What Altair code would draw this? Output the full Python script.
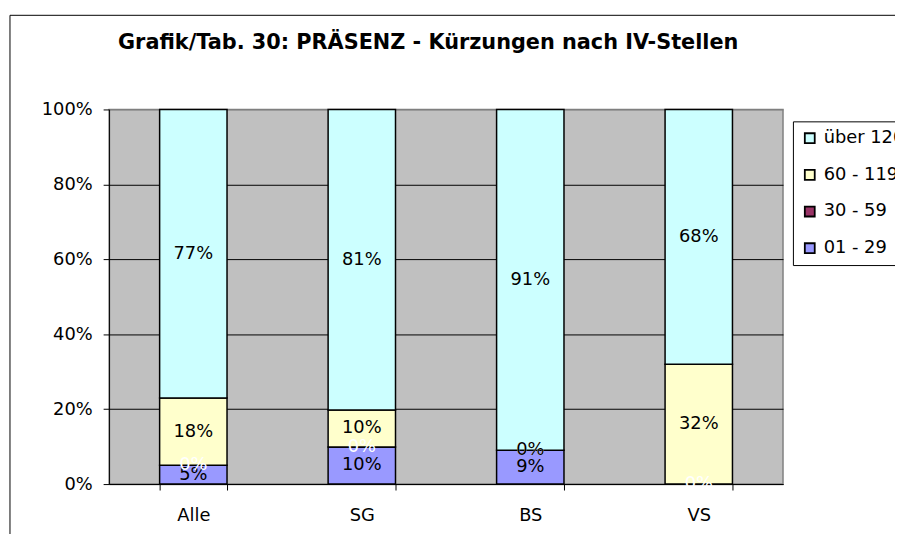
import altair as alt
import pandas as pd

categories = ["Alle", "SG", "BS", "VS"]
series = ["01 - 29", "30 - 59", "60 - 119", "über 120"]
series_colors = ["#9999FF", "#993366", "#FFFFCC", "#CCFFFF"]
label_colors = ["black", "white", "black", "black"]

# values in percent per series (stack order bottom -> top); None = no label / no data
v_0129 = [5, 10, 9, None]
v_3059 = [0, 0, 0, 0]
v_60119 = [18, 10, 0, 32]
v_120 = [77, 81, 91, 68]

values = [v_0129, v_3059, v_60119, v_120]

rows = []
for si, (s, vals) in enumerate(zip(series, values)):
    for ci, c in enumerate(categories):
        v = vals[ci]
        rows.append({
            "cat": c,
            "series": s,
            "idx": si,
            "value": 0 if v is None else v,
            "label": "" if v is None else f"{v}%",
            "lcolor": label_colors[si],
        })
df = pd.DataFrame(rows)

legend_order = list(reversed(series))
legend_colors = list(reversed(series_colors))

FONT = "DejaVu Sans"

x_enc = alt.X(
    "cat:N",
    sort=categories,
    scale=alt.Scale(paddingInner=0.6, paddingOuter=0.3),
    axis=alt.Axis(
        title=None, labelAngle=0, labelFontSize=18, labelFont=FONT,
        labelColor="black", domainColor="black", tickColor="black",
        tickSize=6, tickBand="extent", labelPadding=17, grid=False,
    ),
)

bars = alt.Chart(df).mark_bar(stroke="black", strokeWidth=1.5).encode(
    x=x_enc,
    y=alt.Y(
        "value:Q", stack="normalize",
        scale=alt.Scale(domain=[0, 1], nice=False),
        axis=alt.Axis(
            title=None, format=".0%", values=[0, 0.2, 0.4, 0.6, 0.8, 1.0],
            labelFontSize=18, labelFont=FONT, labelColor="black",
            domainColor="black", tickColor="black", tickSize=6, labelPadding=11,
            grid=True, gridOpacity=1, gridWidth=1,
            gridColor={"condition": {"test": "datum.value === 1", "value": "#808080"}, "value": "black"},
        ),
    ),
    color=alt.Color(
        "series:N",
        scale=alt.Scale(domain=legend_order, range=legend_colors),
        legend=alt.Legend(
            title=None, orient="none", legendX=690, legendY=12,
            labelFontSize=18, labelFont=FONT, labelColor="black", labelOffset=5,
            symbolType="square", symbolSize=100, symbolStrokeColor="black",
            symbolStrokeWidth=1.8, symbolOpacity=1,
            strokeColor="black", fillColor="white", padding=8, rowPadding=19,
        ),
    ),
    order=alt.Order("idx:Q"),
)

labels = alt.Chart(df).transform_stack(
    stack="value", groupby=["cat"], sort=[alt.SortField("idx")],
    as_=["y0", "y1"], offset="normalize",
).transform_calculate(
    ymid="(datum.y0 + datum.y1) / 2"
).mark_text(fontSize=18, font=FONT, baseline="middle").encode(
    x=alt.X("cat:N", sort=categories),
    y=alt.Y("ymid:Q"),
    text="label:N",
    color=alt.Color("lcolor:N", scale=None),
)

frame_df = pd.DataFrame({"a": [0]})
frame_v = alt.Chart(frame_df).mark_rule(color="black", strokeWidth=1).encode(
    x=alt.value(-100), y=alt.value(-95), y2=alt.value(600)
)
frame_h = alt.Chart(frame_df).mark_rule(color="black", strokeWidth=1).encode(
    y=alt.value(-95), x=alt.value(-100), x2=alt.value(900)
)

chart = alt.layer(bars, labels, frame_v, frame_h).properties(
    width=680, height=378,
    background="white",
    autosize=alt.AutoSizeParams(type="none"),
    padding={"left": 102, "top": 100, "right": 113, "bottom": 48},
    title=alt.TitleParams(
        "Grafik/Tab. 30: PRÄSENZ - Kürzungen nach IV-Stellen",
        fontSize=21, font=FONT, fontWeight="bold", color="black",
        anchor="middle", dx=-18, offset=-38,
    ),
).configure_view(
    fill="#C0C0C0", stroke="#808080", strokeWidth=1.5
)

chart.save("out.html", embed_options={"renderer": "svg", "actions": False})
